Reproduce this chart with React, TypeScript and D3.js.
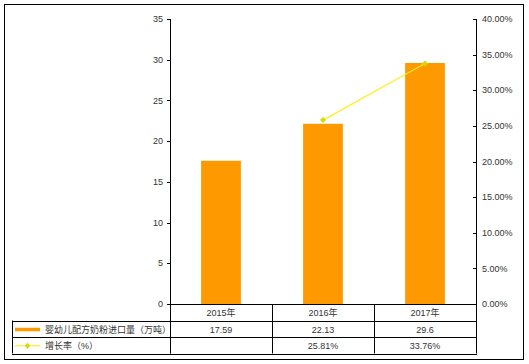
import React from "react";
import * as d3 from "d3";

const categories = ["2015年", "2016年", "2017年"];
const importVolume = [17.59, 22.13, 29.6];
const growthRate: (number | null)[] = [null, 0.2581, 0.3376];
const growthLabels = ["", "25.81%", "33.76%"];
const leftTicks = [0, 5, 10, 15, 20, 25, 30, 35];
const rightTicks = [0, 0.05, 0.1, 0.15, 0.2, 0.25, 0.3, 0.35, 0.4];
const seriesNames = ["婴幼儿配方奶粉进口量（万吨）", "增长率（%）"];

const W = 529;
const H = 364;
const plotL = 170;
const plotR = 476;
const plotT = 19;
const plotB = 304;
const tableL = 12;
const rowH = 16.5;

export default function App() {
  const x = d3.scaleBand<string>().domain(categories).range([plotL, plotR]).padding(0);
  const yL = d3.scaleLinear().domain([0, 35]).range([plotB, plotT]);
  const yR = d3.scaleLinear().domain([0, 0.4]).range([plotB, plotT]);
  const bw = x.bandwidth() * 0.39;
  const cx = (c: string) => (x(c) as number) + x.bandwidth() / 2;

  const linePts = categories
    .map((c, i) => ({ c, v: growthRate[i] }))
    .filter((d) => d.v !== null) as { c: string; v: number }[];
  const line = d3
    .line<{ c: string; v: number }>()
    .x((d) => cx(d.c))
    .y((d) => yR(d.v));

  const r1 = plotB + rowH;
  const r2 = r1 + rowH;
  const r3 = r2 + rowH;
  const font = "Arial, 'Liberation Sans', 'Noto Sans CJK SC', sans-serif";
  const textColor = "#333";
  const colEdges = [plotL, ...categories.slice(1).map((c) => x(c) as number), plotR];

  return (
    <svg
      width={W}
      height={H}
      style={{ position: "absolute", left: 0, top: 0, background: "#fff" }}
      fontFamily={font}
      fontSize={9}
    >
      <rect x={4.5} y={4.5} width={519} height={355} fill="none" stroke="#000" strokeWidth={1} />

      {/* bars */}
      {categories.map((c, i) => (
        <rect
          key={c}
          x={cx(c) - bw / 2}
          y={yL(importVolume[i])}
          width={bw}
          height={plotB - yL(importVolume[i])}
          fill="#FF9900"
        />
      ))}

      {/* growth line */}
      <path d={line(linePts) || ""} fill="none" stroke="#FFEE22" strokeWidth={1.2} />
      {linePts.map((d) => (
        <path
          key={d.c}
          d={`M${cx(d.c)},${yR(d.v) - 3}L${cx(d.c) + 3},${yR(d.v)}L${cx(d.c)},${yR(d.v) + 3}L${cx(d.c) - 3},${yR(d.v)}Z`}
          fill="#D8D800"
        />
      ))}

      {/* axes */}
      <line x1={plotL + 0.5} x2={plotL + 0.5} y1={plotT} y2={r3} stroke="#000" />
      <line x1={plotR + 0.5} x2={plotR + 0.5} y1={plotT} y2={r1} stroke="#000" />
      <line x1={plotL} x2={plotR} y1={plotB + 0.5} y2={plotB + 0.5} stroke="#000" />
      {leftTicks.map((t) => (
        <g key={t}>
          <line x1={plotL - 3} x2={plotL} y1={Math.round(yL(t)) + 0.5} y2={Math.round(yL(t)) + 0.5} stroke="#000" />
          <text x={plotL - 7} y={yL(t)} dy="0.35em" textAnchor="end" fill={textColor}>
            {t}
          </text>
        </g>
      ))}
      {rightTicks.map((t) => (
        <g key={t}>
          <line x1={plotR - 3} x2={plotR} y1={Math.round(yR(t)) + 0.5} y2={Math.round(yR(t)) + 0.5} stroke="#000" />
          <text x={plotR + 6} y={yR(t)} dy="0.35em" textAnchor="start" fill={textColor}>
            {d3.format(".2%")(t)}
          </text>
        </g>
      ))}

      {/* data table */}
      {[r1, r2, r3].map((y) => (
        <line key={y} x1={tableL} x2={plotR + 1} y1={Math.round(y) + 0.5} y2={Math.round(y) + 0.5} stroke="#000" />
      ))}
      <line x1={tableL + 0.5} x2={tableL + 0.5} y1={r1} y2={r3} stroke="#000" />
      {colEdges.map((ex, i) => (
        <line key={i} x1={Math.round(ex) + 0.5} x2={Math.round(ex) + 0.5} y1={plotB} y2={r3} stroke="#000" />
      ))}
      {categories.map((c, i) => (
        <g key={c}>
          <text x={cx(c)} y={(plotB + r1) / 2 + 1} dy="0.35em" textAnchor="middle" fill={textColor}>
            {c}
          </text>
          <text x={cx(c)} y={(r1 + r2) / 2 + 1} dy="0.35em" textAnchor="middle" fill={textColor}>
            {importVolume[i]}
          </text>
          <text x={cx(c)} y={(r2 + r3) / 2 + 1} dy="0.35em" textAnchor="middle" fill={textColor}>
            {growthLabels[i]}
          </text>
        </g>
      ))}
      {/* legend keys */}
      <rect x={15} y={(r1 + r2) / 2 - 1} width={25} height={3.5} fill="#FF9900" />
      <text x={45} y={(r1 + r2) / 2 + 1} dy="0.35em" fill={textColor}>
        {seriesNames[0]}
      </text>
      <line x1={15} x2={40} y1={(r2 + r3) / 2 + 0.5} y2={(r2 + r3) / 2 + 0.5} stroke="#FFEE22" strokeWidth={1.2} />
      <path
        d={`M27.5,${(r2 + r3) / 2 - 2.5}L30,${(r2 + r3) / 2 + 0.5}L27.5,${(r2 + r3) / 2 + 3.5}L25,${(r2 + r3) / 2 + 0.5}Z`}
        fill="#D8D800"
      />
      <text x={45} y={(r2 + r3) / 2 + 1} dy="0.35em" fill={textColor}>
        {seriesNames[1]}
      </text>
    </svg>
  );
}
